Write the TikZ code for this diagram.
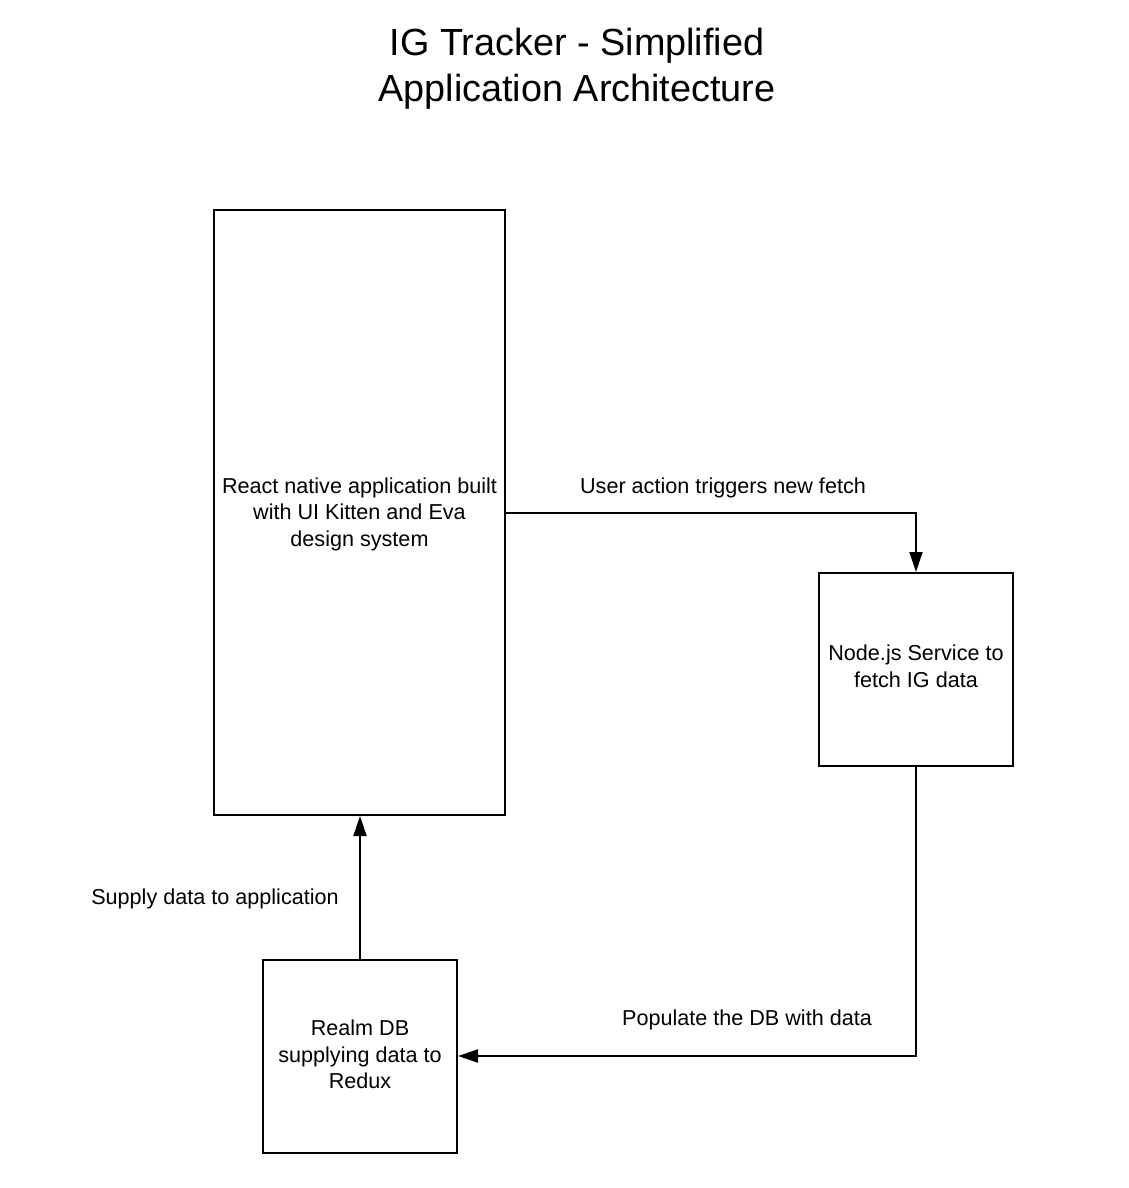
\documentclass[tikz,border=0pt]{standalone}
\usepackage{fontspec}
\setmainfont{Liberation Sans}
\usetikzlibrary{arrows.meta}
\begin{document}
\begin{tikzpicture}[x=1pt,y=-1pt,
  box/.style={draw=black,line width=2pt,inner sep=0pt},
  lbl/.style={font=\fontsize{21.6}{26.5}\selectfont,align=center,inner sep=0pt},
  conn/.style={line width=2pt,-{Triangle[length=20pt,width=13pt]}}]
\useasboundingbox[fill=white] (0,0) rectangle (1128,1188);
\node[lbl,font=\fontsize{37.8}{46}\selectfont] (title) at (577,68.5) {IG Tracker - Simplified\\Application Architecture};
\node[box,minimum width=291pt,minimum height=605pt] (react) at (359.5,512.5) {};
\node[lbl] (reacttxt) at (359.5,514) {React native application built\\with UI Kitten and Eva\\design system};
\node[box,minimum width=194pt,minimum height=193pt] (nodejs) at (916,669.5) {};
\node[lbl] (nodetxt) at (916,666.5) {Node.js Service to\\fetch IG data};
\node[box,minimum width=194pt,minimum height=193pt] (realm) at (360,1056.5) {};
\node[lbl] (realmtxt) at (360,1054.5) {Realm DB\\supplying data to\\Redux};
\coordinate (c1) at (916,512.5);
\coordinate (c2) at (916,1056);
\draw[conn] (react.east |- c1) -- (c1) -- (nodejs.north);
\draw[conn] (nodejs.south) -- (c2) -- (realm.east |- c2);
\draw[conn] (realm.north) -- (react.south -| realm.north);
\node[lbl] (l1) at (723,487.5) {User action triggers new fetch};
\node[lbl] (l2) at (747,1019.5) {Populate the DB with data};
\node[lbl] (l3) at (215,898.5) {Supply data to application};
\end{tikzpicture}
\end{document}
